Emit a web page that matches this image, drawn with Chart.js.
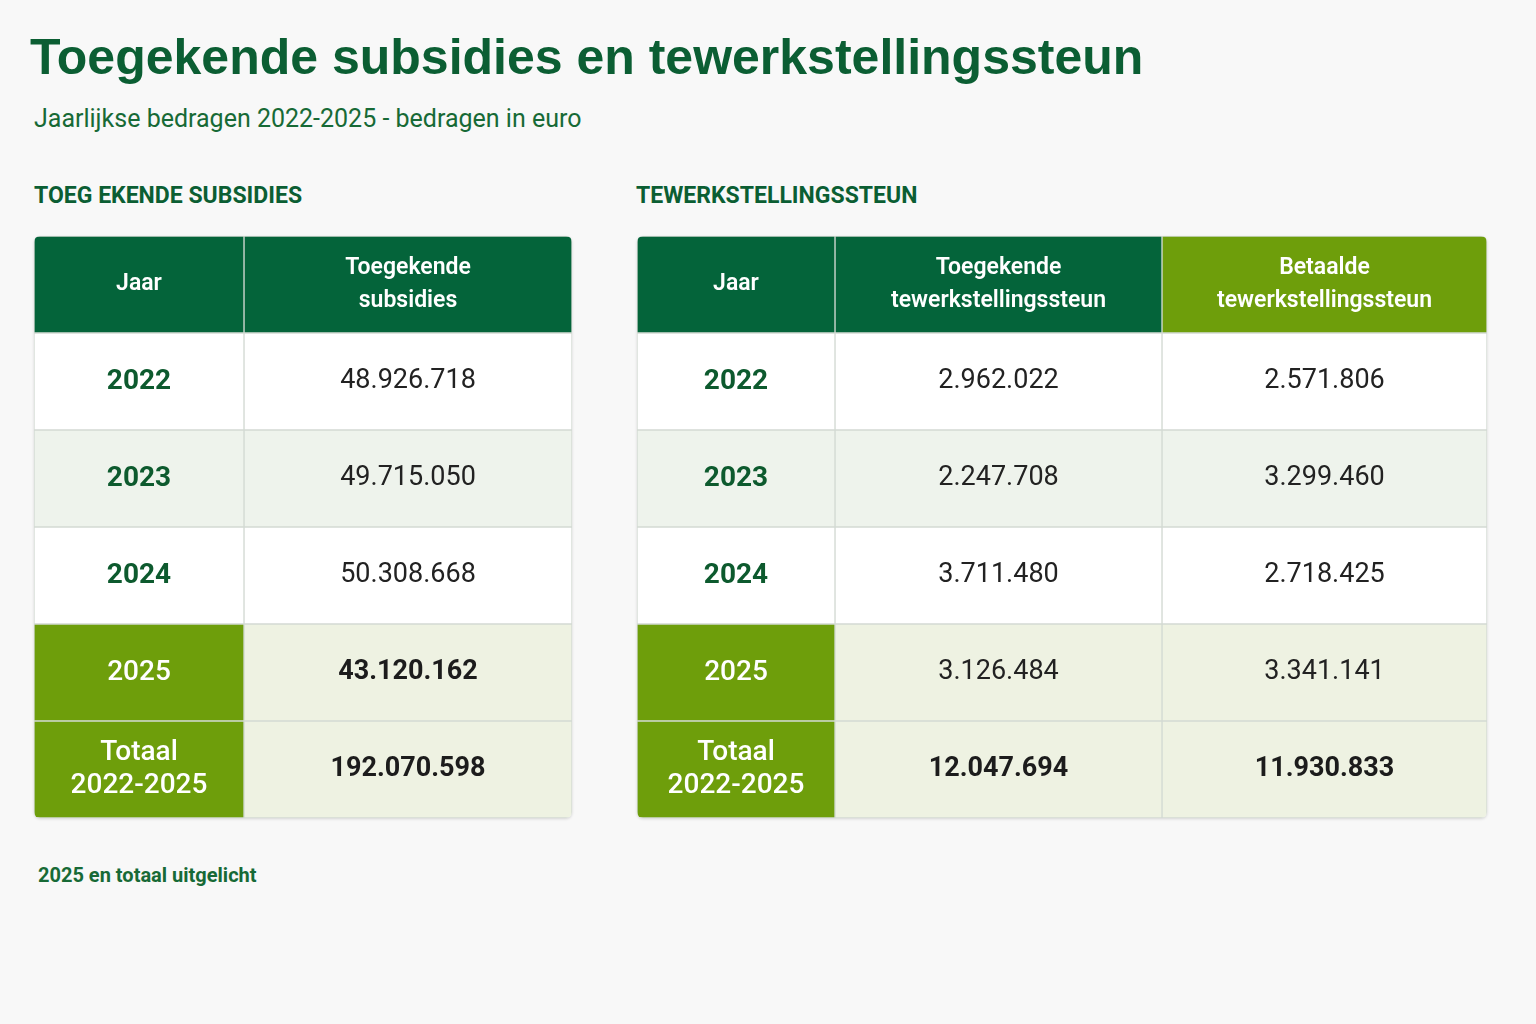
<!DOCTYPE html>
<html>
<head>
<meta charset="utf-8">
<script src="https://cdn.jsdelivr.net/npm/chart.js@4"></script>
<style>
  body { margin: 0; background: #f8f8f8; font-family: Roboto, "Noto Sans", sans-serif; }
  .page { position: relative; width: 1536px; height: 1024px; }
  h1 { position: absolute; left: 30px; top: 28px; margin: 0; font-size: 50px; color: #0b5e33; font-weight: 700; font-family: "Liberation Sans", Arial, sans-serif; }
  .sub { position: absolute; left: 34px; top: 104px; font-size: 25px; color: #176a36; }
  .sec { position: absolute; top: 182px; font-size: 23px; font-weight: 700; color: #0b5e33; }
  .note { position: absolute; left: 38px; top: 863px; font-size: 20px; font-weight: 700; color: #176a36; }
  .box { position: absolute; top: 236px; height: 582px; border-radius: 6px; overflow: hidden; box-shadow: 0 1px 3px rgba(0,0,0,0.15); }
</style>
</head>
<body>
<div class="page">
  <h1>Toegekende subsidies en tewerkstellingssteun</h1>
  <div class="sub">Jaarlijkse bedragen 2022-2025 - bedragen in euro</div>
  <div class="sec" style="left:34px">TOEG EKENDE SUBSIDIES</div>
  <div class="sec" style="left:636px">TEWERKSTELLINGSSTEUN</div>
  <div class="box" style="left:34px;width:538px"><canvas id="left"></canvas></div>
  <div class="box" style="left:637px;width:850px"><canvas id="right"></canvas></div>
  <div class="note">2025 en totaal uitgelicht</div>
</div>
<script>
const rows = ["Jaar", "2022", "2023", "2024", "2025", "Totaal\n2022-2025"];
const leftHeaders = ["Toegekende\nsubsidies"];
const subsidies = ["48.926.718", "49.715.050", "50.308.668", "43.120.162", "192.070.598"];
const rightHeaders = ["Toegekende\ntewerkstellingssteun", "Betaalde\ntewerkstellingssteun"];
const toegekendSteun = ["2.962.022", "2.247.708", "3.711.480", "3.126.484", "12.047.694"];
const betaaldSteun = ["2.571.806", "3.299.460", "2.718.425", "3.341.141", "11.930.833"];

const DARK = "#04643a", LIME = "#6e9e0b", HL = "#eef2e2", ALT = "#eef3ec", WHITE = "#ffffff";

function rowBg(j) { return j === 2 ? ALT : (j >= 4 ? HL : WHITE); }

function yearColumn(width) {
  return {
    data: rows.map(() => width),
    backgroundColor: rows.map((r, j) => j === 0 ? DARK : (j >= 4 ? LIME : rowBg(j))),
    texts: rows,
    styles: rows.map((r, j) => j === 0 ? ["600 23px Roboto", "#fff"] :
      j >= 4 ? ["500 28px Roboto", "#fff"] : ["700 28px Roboto", "#0d5a2e"])
  };
}
function valueColumn(width, header, values, headColor, boldFrom) {
  const texts = [header].concat(values);
  return {
    data: texts.map(() => width),
    backgroundColor: texts.map((t, j) => j === 0 ? headColor : rowBg(j)),
    texts: texts,
    styles: texts.map((t, j) => j === 0 ? ["600 23px Roboto", "#fff"] :
      j >= boldFrom ? ["700 27px Roboto", "#1c1c1c"] : ["400 27px Roboto", "#222"])
  };
}

const cellText = {
  id: "cellText",
  afterDatasetsDraw(chart) {
    const ctx = chart.ctx;
    chart.data.datasets.forEach((ds, i) => {
      chart.getDatasetMeta(i).data.forEach((el, j) => {
        const lines = ds.texts[j].split("\n");
        const [font, color] = ds.styles[j];
        ctx.save();
        ctx.font = font; ctx.fillStyle = color;
        ctx.textAlign = "center"; ctx.textBaseline = "middle";
        const cx = (el.x + el.base) / 2, lh = 33;
        lines.forEach((l, k) => ctx.fillText(l, cx, el.y + (k - (lines.length - 1) / 2) * lh));
        ctx.restore();
      });
    });
  }
};

function makeTable(id, columns, total) {
  new Chart(document.getElementById(id), {
    type: "bar",
    data: {
      labels: rows,
      datasets: columns.map(c => Object.assign({
        borderColor: "#d3dad3", borderWidth: 1, borderSkipped: false,
        categoryPercentage: 1, barPercentage: 1
      }, c))
    },
    options: {
      indexAxis: "y", responsive: true, maintainAspectRatio: false, animation: false,
      layout: { padding: 0 },
      plugins: { legend: { display: false }, tooltip: { enabled: false } },
      scales: {
        x: { stacked: true, display: false, min: 0, max: total },
        y: { stacked: true, display: false }
      }
    },
    plugins: [cellText]
  });
}

makeTable("left", [yearColumn(210), valueColumn(328, leftHeaders[0], subsidies, DARK, 4)], 538);
makeTable("right", [yearColumn(198),
  valueColumn(327, rightHeaders[0], toegekendSteun, DARK, 5),
  valueColumn(325, rightHeaders[1], betaaldSteun, LIME, 5)], 850);
</script>
</body>
</html>
